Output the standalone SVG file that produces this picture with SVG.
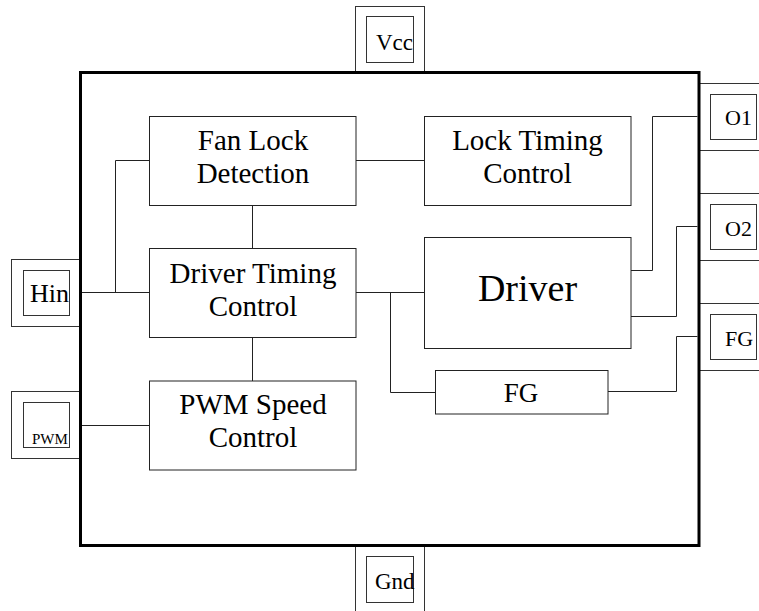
<svg xmlns="http://www.w3.org/2000/svg" width="759" height="611" viewBox="0 0 759 611">
<style>
.box{fill:#fff;stroke:#222;stroke-width:1}
.pin{fill:none;stroke:#333;stroke-width:1}
.chip{fill:#fff;stroke:#000;stroke-width:3}
.wire{fill:none;stroke:#222;stroke-width:1}
text{font-family:"Liberation Serif","Times New Roman",serif;fill:#000}
.blk{font-size:29px;text-anchor:middle}
.big{font-size:38px;text-anchor:middle}
.fg{font-size:27px;text-anchor:middle}
.pt{font-size:22px}
</style>
<rect x="0" y="0" width="759" height="611" fill="#fff"/>
<g id="pin-vcc">
<rect class="pin" x="355.5" y="6.5" width="69" height="70"/>
<rect class="pin" x="366.5" y="16.5" width="47" height="46"/>
<text x="376" y="50" font-size="23">Vcc</text>
</g>
<g id="pin-gnd">
<rect class="pin" x="355.5" y="540" width="69" height="80"/>
<rect class="pin" x="366.5" y="556.5" width="47" height="46"/>
<text x="375" y="589" font-size="23">Gnd</text>
</g>
<g id="pin-hin">
<rect class="pin" x="11.5" y="259.5" width="72" height="67"/>
<rect class="pin" x="23.5" y="270.5" width="46" height="45"/>
<text x="30" y="302" font-size="26">Hin</text>
</g>
<g id="pin-pwm">
<rect class="pin" x="11.5" y="391.5" width="72" height="67"/>
<rect class="pin" x="23.5" y="402.5" width="46" height="45"/>
<text x="32" y="444" font-size="15">PWM</text>
</g>
<g id="pin-o1">
<rect class="pin" x="696" y="83.5" width="70" height="67"/>
<rect class="pin" x="710.5" y="94.5" width="46" height="45"/>
<text class="pt" x="725" y="125">O1</text>
</g>
<g id="pin-o2">
<rect class="pin" x="696" y="193.5" width="70" height="67"/>
<rect class="pin" x="710.5" y="204.5" width="46" height="45"/>
<text class="pt" x="725" y="236">O2</text>
</g>
<g id="pin-fg">
<rect class="pin" x="696" y="303.5" width="70" height="67"/>
<rect class="pin" x="710.5" y="314.5" width="46" height="45"/>
<text class="pt" x="725" y="346">FG</text>
</g>
<g id="chip">
<rect class="chip" x="80.5" y="72.5" width="618.5" height="473"/>
</g>
<g id="connectors">
<polyline class="wire" points="82,292.5 149.5,292.5"/>
<polyline class="wire" points="115.5,292.5 115.5,160.5 149.5,160.5"/>
<polyline class="wire" points="82,425.5 149.5,425.5"/>
<polyline class="wire" points="252.5,205 252.5,248"/>
<polyline class="wire" points="252.5,337 252.5,381"/>
<polyline class="wire" points="356,160.5 424,160.5"/>
<polyline class="wire" points="356,292.5 424,292.5"/>
<polyline class="wire" points="390.5,292.5 390.5,392.5 435,392.5"/>
<polyline class="wire" points="631,270.5 652.5,270.5 652.5,116.5 697.5,116.5"/>
<polyline class="wire" points="631,316.5 676.5,316.5 676.5,226.5 697.5,226.5"/>
<polyline class="wire" points="608,391.5 676.5,391.5 676.5,336.5 697.5,336.5"/>
</g>
<g id="fan-lock-detection">
<rect class="box" x="149.5" y="116.5" width="206.5" height="89"/>
<text class="blk" x="253" y="150">Fan Lock</text>
<text class="blk" x="253" y="183">Detection</text>
</g>
<g id="lock-timing-control">
<rect class="box" x="424.5" y="116.5" width="206.5" height="89"/>
<text class="blk" x="527.5" y="150">Lock Timing</text>
<text class="blk" x="527.5" y="183">Control</text>
</g>
<g id="driver-timing-control">
<rect class="box" x="149.5" y="248.5" width="206.5" height="89"/>
<text class="blk" x="253" y="283">Driver Timing</text>
<text class="blk" x="253" y="316">Control</text>
</g>
<g id="pwm-speed-control">
<rect class="box" x="149.5" y="381" width="206.5" height="89"/>
<text class="blk" x="253" y="413.5">PWM Speed</text>
<text class="blk" x="253" y="447">Control</text>
</g>
<g id="driver">
<rect class="box" x="424.5" y="237.5" width="206.5" height="111"/>
<text class="big" x="527.5" y="301">Driver</text>
</g>
<g id="fg">
<rect class="box" x="435.5" y="370.5" width="172.5" height="43.5"/>
<text class="fg" x="521" y="402">FG</text>
</g>
</svg>
